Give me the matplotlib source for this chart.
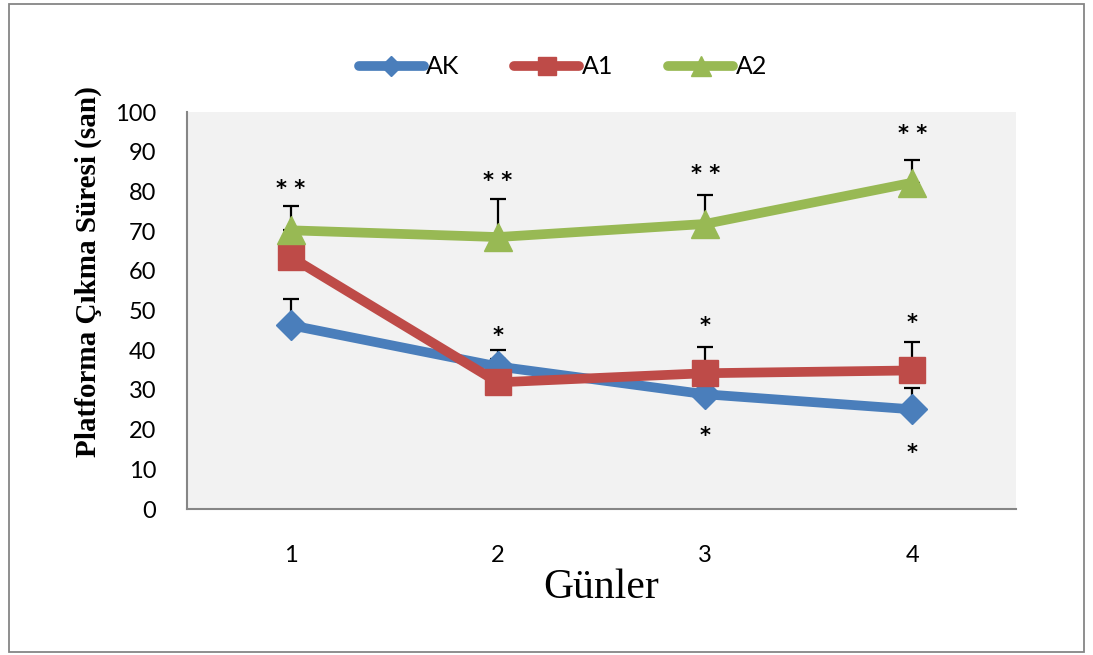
import matplotlib
matplotlib.use('Agg')
import matplotlib.pyplot as plt
from matplotlib.patches import Rectangle

plt.rcParams['font.family'] = 'Lato'

days = [1, 2, 3, 4]
ak = [46.3, 35.9, 28.9, 25.1]
ak_err = [6.5, 4.2, 5.0, 5.5]
a1 = [63.5, 31.9, 34.2, 34.9]
a1_err = [3.0, 6.0, 6.5, 7.2]
a2 = [70.2, 68.5, 71.8, 82.2]
a2_err = [6.2, 9.5, 7.4, 5.8]

# significance marks: (day, y, text)
stars = [(1, 80.5, '* *'), (2, 82.5, '* *'), (3, 84.5, '* *'), (4, 94.5, '* *'),
         (2, 43.5, '*'), (3, 46.0, '*'), (4, 46.8, '*'),
         (3, 18.5, '*'), (4, 14.0, '*')]

fig = plt.figure(figsize=(10.93, 6.55), dpi=100)
ax = fig.add_axes([0.1711, 0.2229, 0.7585, 0.6061])
ax.set_facecolor('#F2F2F2')

series = [('AK', ak, ak_err, '#4A7EBB', 'D', 15),
          ('A1', a1, a1_err, '#BE4B48', 's', 19),
          ('A2', a2, a2_err, '#98B954', '^', 20)]

for name, vals, err, col, mk, ms in series:
    ax.errorbar(days, vals, yerr=[[0] * 4, err], fmt='none', ecolor='black',
                elinewidth=1.6, capsize=6, capthick=1.6, zorder=2)
for name, vals, err, col, mk, ms in series:
    ax.plot(days, vals, color=col, lw=7, marker=mk, markersize=ms,
            solid_capstyle='round', label=name, zorder=3)

for d, y, t in stars:
    ax.text(d, y, t, ha='center', va='center', fontsize=15,
            fontweight='bold', family='DejaVu Sans', zorder=4)

ax.set_xlim(0.5, 4.5)
ax.set_ylim(0, 100)
ax.set_xticks(days)
ax.set_yticks(range(0, 101, 10))
ax.tick_params(axis='both', length=0, labelsize=17)
ax.tick_params(axis='y', pad=22)
ax.tick_params(axis='x', pad=26)
for s in ['top', 'right']:
    ax.spines[s].set_visible(False)
for s in ['left', 'bottom']:
    ax.spines[s].set_color('#868686')
    ax.spines[s].set_linewidth(1.5)

ax.set_ylabel('Platforma Çıkma Süresi (san)', family='Liberation Serif',
              fontweight='bold', fontsize=21)
ax.yaxis.set_label_coords(-0.103, 0.597)
ax.set_xlabel('Günler', family='Liberation Serif', fontsize=30, labelpad=2)

fig.legend(loc='center', bbox_to_anchor=(0.515, 0.898), ncol=3, frameon=False,
           fontsize=18, handlelength=2.6, columnspacing=2.2, handletextpad=0.1,
           markerscale=0.7)

fig.patches.append(Rectangle((0.008, 0.004), 0.984, 0.99, transform=fig.transFigure,
                             fill=False, edgecolor='#868686', lw=1.3))

fig.savefig('out.png', dpi=100)
